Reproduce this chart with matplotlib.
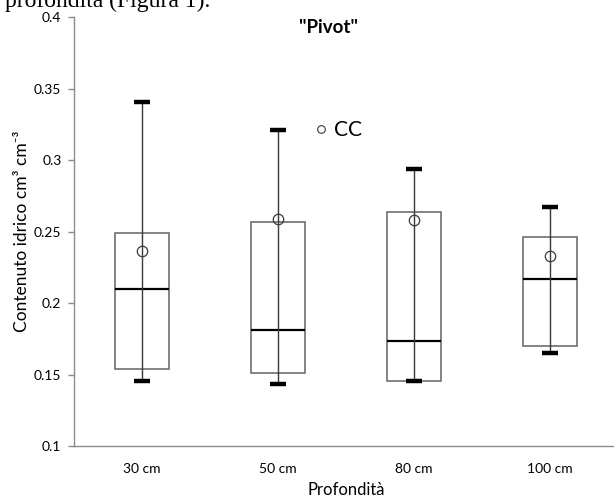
import matplotlib
matplotlib.use('Agg')
import matplotlib.pyplot as plt
from matplotlib.lines import Line2D
import numpy as np

plt.rcParams['font.family'] = ['Lato', 'DejaVu Sans']

# data
depths = ['30 cm', '50 cm', '80 cm', '100 cm']
q1 = [0.1536, 0.1508, 0.1455, 0.1701]
median = [0.2098, 0.1811, 0.1732, 0.2168]
q3 = [0.2487, 0.2564, 0.2639, 0.2462]
wmin = [0.1457, 0.1434, 0.1455, 0.1653]
wmax = [0.3406, 0.3208, 0.2935, 0.2671]
cc = [0.2364, 0.2585, 0.2580, 0.2331]
yticks = [0.1, 0.15, 0.2, 0.25, 0.3, 0.35, 0.4]

W, H = 614, 497
fig = plt.figure(figsize=(W / 100, H / 100), dpi=100)
# axes run past the right edge, like the cropped original
ax = fig.add_axes([74 / W, (H - 446) / H, 544 / W, 429 / H])

x = np.arange(len(depths))
bw = 0.40
q1a = np.array(q1)
q3a = np.array(q3)

# boxes
ax.bar(x, q3a - q1a, bottom=q1a, width=bw, facecolor='white',
       edgecolor='#6e6e6e', linewidth=1.2, zorder=2)
# medians
ax.hlines(median, x - bw / 2, x + bw / 2, colors='black', linewidth=1.6, zorder=3)
# whiskers
ax.vlines(x, wmin, wmax, colors='#3a3a3a', linewidth=1.0, zorder=4)
ax.plot(x, wmax, linestyle='none', marker='_', markersize=11, mew=3.2, color='black', zorder=5)
ax.plot(x, wmin, linestyle='none', marker='_', markersize=11, mew=3.2, color='black', zorder=5)
# CC points
ax.plot(x, cc, linestyle='none', marker='o', markersize=7.5, mfc='none',
        mec='#3a3a3a', mew=0.9, zorder=6)

ax.set_xlim(-0.5, len(depths) - 0.5)
ax.set_ylim(0.1, 0.4)
ax.set_yticks(yticks)
ax.set_yticklabels(['{:g}'.format(v) for v in yticks])
ax.set_xticks(x)
ax.set_xticklabels(depths)

for s in ['top', 'right']:
    ax.spines[s].set_visible(False)
for s in ['left', 'bottom']:
    ax.spines[s].set_color('#8a8a8a')
    ax.spines[s].set_linewidth(1.0)
ax.tick_params(axis='y', length=4, width=1, color='#8a8a8a', labelsize=10, pad=5)
ax.tick_params(axis='x', length=0, labelsize=10, pad=12)

ax.set_xlabel('Profondità', fontsize=12, labelpad=5)
ax.set_ylabel('Contenuto idrico cm³ cm⁻³', fontsize=12.5)
ax.yaxis.set_label_coords((30 - 74) / 544, 0.5)

fig.text(328 / W, 1 - 27.5 / H, '"Pivot"', ha='center', va='center',
         fontsize=13.5, fontweight='bold')

handle = Line2D([], [], linestyle='none', marker='o', markersize=5.5, mfc='none',
                mec='#3a3a3a', mew=0.8)
ax.legend(handles=[handle], labels=['CC'], loc='center left',
          bbox_to_anchor=(313 / W, 1 - 130 / H), bbox_transform=fig.transFigure,
          frameon=False, fontsize=15, handlelength=0.8, handletextpad=0.2,
          borderpad=0, borderaxespad=0)

# cut-off line of the surrounding document at the top
fig.text(5 / W, 1 - 7 / H, 'profondità (Figura 1).', ha='left', va='baseline',
         fontsize=17, family='Liberation Serif')

fig.savefig('out.png', dpi=100)
